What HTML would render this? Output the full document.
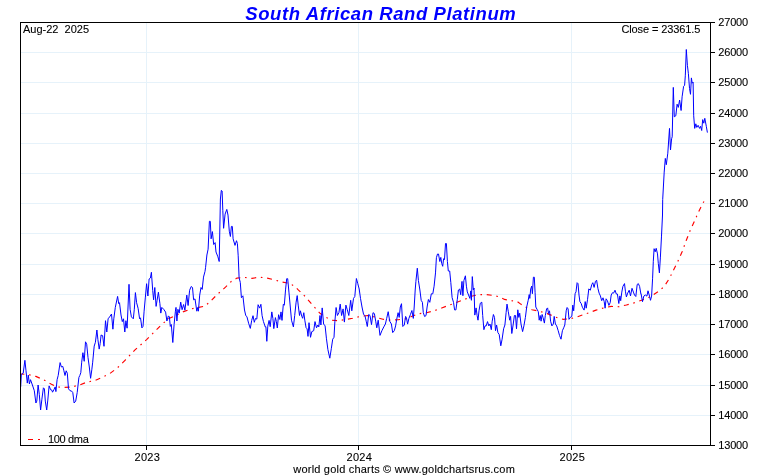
<!DOCTYPE html>
<html><head><meta charset="utf-8"><title>South African Rand Platinum</title>
<style>
html,body{margin:0;padding:0;background:#fff;}
body{width:760px;height:475px;overflow:hidden;}
svg{display:block;font-family:"Liberation Sans",sans-serif;font-size:11px;fill:#000;}
text{stroke:#000;stroke-width:.1px;}
.ttl{font-size:18.5px;font-weight:bold;font-style:italic;fill:#0000ff;stroke:none;}
</style></head><body>
<svg width="760" height="475" viewBox="0 0 760 475">
<rect width="760" height="475" fill="#fff"/>
<g fill="#e6f2fa" shape-rendering="crispEdges"><rect x="21" y="52" width="689" height="1"/><rect x="21" y="82" width="689" height="1"/><rect x="21" y="113" width="689" height="1"/><rect x="21" y="143" width="689" height="1"/><rect x="21" y="173" width="689" height="1"/><rect x="21" y="203" width="689" height="1"/><rect x="21" y="233" width="689" height="1"/><rect x="21" y="264" width="689" height="1"/><rect x="21" y="294" width="689" height="1"/><rect x="21" y="324" width="689" height="1"/><rect x="21" y="354" width="689" height="1"/><rect x="21" y="385" width="689" height="1"/><rect x="21" y="415" width="689" height="1"/><rect x="146" y="23" width="1" height="422"/><rect x="358" y="23" width="1" height="422"/><rect x="571" y="23" width="1" height="422"/></g>
<polyline fill="none" stroke="#ff0000" stroke-width="1.15" stroke-dasharray="5 4.7 1.6 4.7" stroke-dashoffset="1.5" points="20.9,374.0 28.3,374.5 35.9,376.4 43.4,379.7 51.0,384.0 56.7,386.9 64.3,387.4 71.9,386.9 79.5,385.0 87.0,382.1 94.6,380.6 102.2,377.4 109.8,373.6 117.4,367.9 125.0,360.3 135.0,349.9 146.6,339.6 160.8,325.4 168.4,318.8 176.0,315.4 183.6,311.6 191.2,308.9 198.7,307.4 205.0,306.1 210.3,301.4 217.9,293.9 225.5,287.2 231.2,281.5 236.9,278.1 244.5,277.4 252.0,278.3 259.6,277.2 267.2,278.1 274.8,280.0 282.4,282.1 290.0,283.4 295.6,287.2 298.5,290.1 305.2,296.5 312.7,305.1 320.3,313.6 327.0,317.8 331.7,320.2 337.4,320.6 345.0,319.7 352.6,318.3 360.1,316.4 367.7,315.5 375.3,317.0 382.9,319.3 390.5,320.2 398.1,319.7 405.6,318.9 411.4,316.5 419.0,313.7 426.5,312.7 434.1,310.8 441.7,308.0 449.3,305.1 456.9,302.3 464.7,299.4 471.4,296.2 479.0,294.6 486.5,294.6 494.1,295.6 499.8,296.9 504.5,299.4 511.2,300.7 516.9,301.3 520.7,304.1 526.4,307.5 532.0,309.8 539.6,311.3 547.2,313.6 552.9,315.9 558.6,318.3 563.3,319.3 570.0,318.7 575.6,317.4 580.9,315.5 588.4,313.0 596.0,310.1 603.6,307.9 611.2,306.4 618.8,306.7 626.4,305.0 633.9,302.9 641.5,300.3 644.2,299.2 650.5,296.7 657.9,291.8 664.2,286.6 669.5,278.2 673.7,269.7 677.9,261.3 682.1,251.8 686.3,240.3 690.5,229.7 695.2,219.6 697.9,213.2 702.1,204.7 706.3,197.4"/>
<polyline fill="none" stroke="#0000ff" stroke-width="1" stroke-linejoin="round" points="20.7,386.9 21.3,374.5 23.2,373.2 24.9,360.3 26.0,370.8 27.3,383.1 28.3,375.1 29.4,384.0 30.5,379.7 32.4,385.0 34.3,390.7 35.9,403.0 36.8,401.1 38.1,385.0 39.3,394.5 40.6,410.0 41.9,399.2 43.4,387.8 44.4,388.8 45.3,401.1 46.7,410.0 47.8,400.1 49.1,385.9 50.6,389.7 52.0,390.3 52.5,392.2 53.9,389.7 55.2,386.9 55.9,391.6 57.1,379.7 58.2,375.5 60.1,362.6 61.4,367.0 62.8,366.4 63.9,370.8 65.0,375.5 66.2,370.8 67.3,373.2 68.5,388.8 70.0,390.7 71.5,391.0 72.8,392.6 74.1,403.0 75.7,401.1 77.2,392.6 78.9,377.4 79.8,375.5 80.8,372.7 81.7,362.2 82.9,352.7 84.2,361.3 85.5,341.8 86.7,344.2 88.0,357.5 89.3,367.0 90.6,378.3 91.8,369.8 92.7,362.2 94.2,346.1 95.4,342.3 96.9,330.0 97.9,339.6 99.2,349.1 100.2,343.4 101.1,334.9 102.1,335.8 102.6,335.5 104.0,346.3 105.5,320.7 106.8,332.0 108.1,318.8 109.6,316.9 111.5,314.0 112.9,329.2 113.8,318.8 115.3,307.4 117.6,296.4 118.7,303.6 119.5,302.7 121.0,315.0 122.3,321.6 123.5,318.8 124.8,332.0 125.9,320.7 127.1,328.2 129.0,284.3 130.1,309.3 131.4,316.9 133.3,318.8 134.3,309.3 135.4,292.6 136.6,302.7 138.1,308.3 139.6,318.8 140.5,317.8 141.9,327.9 143.0,326.4 144.1,311.2 145.3,297.9 146.6,283.7 147.9,296.0 149.1,279.0 150.4,278.0 151.4,272.3 152.7,290.3 153.6,299.8 154.8,287.5 156.1,306.4 157.0,300.8 158.4,292.2 159.9,303.6 160.8,313.1 161.8,307.4 163.7,309.3 165.6,312.1 166.9,321.0 168.4,315.9 169.4,316.9 170.3,326.4 171.3,324.5 172.8,342.5 174.1,324.5 175.4,311.2 176.0,307.4 176.9,321.0 177.9,309.3 179.2,313.1 180.7,302.1 182.1,309.7 183.6,304.5 184.9,310.2 186.8,295.1 188.1,305.5 189.6,290.3 191.2,286.5 192.5,287.5 193.6,299.8 195.0,298.9 196.8,311.2 197.8,307.4 198.4,311.2 199.7,295.1 201.0,287.5 202.2,289.4 203.5,277.1 205.0,271.4 205.6,267.3 206.9,255.0 208.1,249.2 209.4,221.3 210.3,221.3 211.1,238.8 212.4,231.6 213.7,244.5 215.1,242.6 216.0,252.0 217.9,256.8 219.2,261.5 220.4,199.0 221.3,190.4 222.1,191.0 222.8,210.3 223.6,228.3 225.1,214.1 226.8,209.4 228.0,215.1 229.3,231.2 230.4,236.5 231.4,226.4 232.3,226.4 233.1,238.8 235.0,245.4 236.5,240.7 237.4,243.5 238.2,255.8 239.1,277.7 240.3,282.5 241.4,297.7 242.9,295.8 244.5,310.0 245.8,315.7 246.9,316.6 248.6,323.2 250.3,328.4 251.7,320.4 253.0,315.7 254.3,322.3 255.5,318.5 256.8,319.1 258.1,304.7 259.6,308.1 260.9,304.3 262.1,315.7 263.4,321.4 265.3,327.0 265.9,326.7 266.8,341.3 267.8,326.1 269.1,320.4 270.2,326.7 271.8,311.9 272.9,318.5 273.8,328.6 275.4,317.6 276.3,321.4 277.3,328.0 278.6,314.7 279.9,319.5 281.0,311.9 282.0,320.4 283.3,304.3 284.3,305.2 285.6,289.1 286.7,278.7 287.7,278.7 289.0,292.9 291.5,320.2 293.4,326.9 294.7,315.5 296.1,302.2 297.2,295.6 298.2,305.1 299.5,315.5 300.4,310.8 301.8,316.4 302.7,318.3 303.8,312.7 304.8,320.2 306.1,327.8 307.1,328.8 308.0,336.4 309.0,322.7 310.5,337.3 311.8,331.6 313.7,330.7 315.0,321.6 316.5,327.8 317.9,325.0 318.8,326.9 320.0,315.5 320.9,325.0 322.2,307.9 323.6,324.0 325.1,325.9 326.4,338.2 327.9,349.6 329.8,358.2 331.3,348.7 332.7,339.2 334.0,337.3 334.9,321.2 336.1,307.5 337.4,315.5 338.9,312.7 340.2,304.1 341.6,315.5 343.1,308.9 344.4,322.1 345.9,305.1 347.3,309.8 348.8,315.5 350.7,300.3 351.8,310.8 353.5,298.4 354.8,296.5 356.4,278.5 357.7,283.3 359.2,289.0 360.5,298.4 362.0,307.0 363.6,314.5 364.9,315.5 366.2,321.2 367.3,326.5 368.7,314.5 370.0,315.5 371.5,324.6 373.0,312.7 374.4,313.6 375.7,321.2 376.8,327.8 378.2,320.2 380.0,335.4 381.9,330.7 383.8,326.9 385.4,324.0 386.7,318.3 388.2,311.7 389.7,321.2 391.4,324.0 392.7,332.6 394.3,330.7 395.6,325.9 396.7,319.3 398.1,312.7 399.2,317.4 400.3,307.0 401.5,303.7 402.8,326.5 404.3,325.0 405.6,316.4 406.4,317.5 407.6,324.1 408.9,318.4 410.4,314.6 411.9,310.5 413.3,318.4 414.2,307.0 415.2,290.0 415.9,281.4 417.3,268.2 418.4,280.5 419.9,290.0 421.2,300.4 422.4,302.3 423.3,312.7 424.6,316.5 426.0,315.6 427.1,307.0 428.4,299.5 429.8,302.3 431.3,293.8 432.8,293.8 434.1,286.2 435.5,272.9 436.4,257.7 437.5,254.0 438.5,254.0 439.8,261.5 440.8,257.4 441.7,263.4 442.7,266.3 443.6,258.7 444.5,259.6 445.5,243.5 446.4,243.5 447.4,261.5 448.3,271.0 449.7,271.0 450.8,282.4 452.1,297.6 453.5,302.3 454.6,309.9 455.9,309.9 457.3,299.5 458.4,290.0 459.7,289.0 460.7,294.7 462.0,281.4 462.9,295.7 463.9,280.5 465.4,275.8 466.4,286.2 467.3,291.9 469.9,298.4 470.8,290.9 471.4,300.3 472.3,276.6 473.3,289.9 474.0,288.0 474.8,315.1 476.1,307.9 477.1,315.5 478.0,320.2 479.0,310.8 480.3,303.2 481.8,302.2 482.7,315.5 483.9,329.7 485.0,325.9 486.2,325.9 487.5,321.6 488.8,325.9 490.0,324.0 491.3,329.7 492.2,321.2 493.4,314.5 494.5,317.4 495.5,330.7 496.6,325.0 497.9,332.6 499.2,334.5 500.8,345.8 502.1,339.2 503.6,328.8 504.9,325.0 506.1,312.7 507.0,304.1 508.3,311.7 509.7,320.2 510.6,316.4 511.8,333.5 513.1,325.0 514.4,315.5 515.5,315.5 516.5,328.8 517.8,309.8 518.8,317.4 519.7,313.2 521.0,324.0 522.6,331.6 523.9,325.9 525.4,317.4 526.7,307.0 528.2,300.3 529.2,294.6 529.8,298.4 530.7,289.0 531.7,286.1 532.4,293.7 533.4,277.2 534.3,277.2 535.1,292.7 535.8,307.0 537.3,309.8 538.3,311.7 539.2,320.2 540.2,315.5 541.1,321.2 542.1,314.5 543.0,317.4 544.4,323.1 545.3,315.5 546.6,308.9 547.6,307.9 548.5,313.6 549.5,310.8 550.6,321.2 551.9,325.9 553.3,324.0 554.2,316.4 555.4,324.0 556.7,325.9 558.2,330.7 559.5,335.4 561.0,339.2 562.4,330.7 563.7,327.8 564.8,325.0 566.2,310.8 567.1,307.5 568.1,308.9 569.0,319.3 570.3,317.4 571.8,316.4 572.8,305.1 573.7,310.8 575.1,293.7 576.0,291.8 577.1,282.7 578.0,283.6 579.0,295.0 579.9,301.6 581.2,303.5 582.4,307.3 584.1,310.1 585.2,301.6 586.2,308.2 587.5,299.7 588.8,288.9 590.3,290.2 591.8,284.5 592.8,282.7 594.1,287.4 595.5,281.3 596.6,280.2 597.9,288.3 599.1,293.1 600.4,295.9 601.7,300.7 603.0,297.8 604.2,301.6 605.1,308.2 606.1,298.8 607.4,300.7 608.9,305.4 610.2,302.6 611.2,295.0 612.5,292.7 613.6,293.1 615.0,290.2 616.3,294.0 617.4,294.0 618.8,303.5 619.9,295.9 620.7,300.7 621.8,292.1 622.9,286.4 624.5,283.6 625.4,291.2 626.4,296.9 627.7,293.1 629.2,290.2 630.5,295.9 632.0,288.3 633.4,292.1 634.5,295.0 635.8,296.5 637.2,284.5 638.3,283.6 639.6,286.4 640.9,294.0 641.1,293.9 642.5,301.7 643.8,296.1 645.3,295.0 646.9,296.1 648.0,290.8 649.5,296.1 650.5,300.3 651.6,296.1 652.6,278.2 653.3,261.3 654.1,248.7 655.2,251.8 656.2,248.3 657.5,253.9 658.3,263.4 659.4,272.9 660.4,257.1 661.5,236.1 662.5,215.0 662.7,199.5 664.2,172.1 665.3,158.4 666.3,164.7 667.8,153.2 669.5,128.4 670.5,150.0 671.6,138.8 672.2,136.8 673.3,87.4 674.3,116.8 675.8,115.8 677.1,104.2 678.3,107.4 679.6,100.0 681.1,110.5 682.1,96.8 683.6,86.3 684.6,85.3 685.3,75.8 686.3,49.5 687.4,65.3 688.4,73.7 689.5,88.4 690.5,94.3 691.4,77.9 692.2,83.2 693.1,82.1 693.7,115.8 694.7,128.4 695.8,123.8 696.8,127.4 698.1,125.3 699.6,128.4 700.6,126.3 701.7,130.5 702.7,119.6 703.8,123.2 704.8,118.3 706.3,126.3 707.4,132.6"/>
<g fill="#000" shape-rendering="crispEdges">
<rect x="20" y="22" width="691" height="1"/><rect x="20" y="445" width="691" height="1"/>
<rect x="20" y="22" width="1" height="424"/><rect x="710" y="22" width="1" height="424"/>
<rect x="711" y="22" width="4" height="1"/><rect x="711" y="52" width="4" height="1"/><rect x="711" y="82" width="4" height="1"/><rect x="711" y="113" width="4" height="1"/><rect x="711" y="143" width="4" height="1"/><rect x="711" y="173" width="4" height="1"/><rect x="711" y="203" width="4" height="1"/><rect x="711" y="233" width="4" height="1"/><rect x="711" y="264" width="4" height="1"/><rect x="711" y="294" width="4" height="1"/><rect x="711" y="324" width="4" height="1"/><rect x="711" y="354" width="4" height="1"/><rect x="711" y="385" width="4" height="1"/><rect x="711" y="415" width="4" height="1"/><rect x="711" y="445" width="4" height="1"/><rect x="146" y="446" width="1" height="4"/><rect x="358" y="446" width="1" height="4"/><rect x="571" y="446" width="1" height="4"/></g>
<g><text x="718.2" y="26.1" textLength="30" lengthAdjust="spacing">27000</text><text x="718.2" y="56.1" textLength="30" lengthAdjust="spacing">26000</text><text x="718.2" y="86.1" textLength="30" lengthAdjust="spacing">25000</text><text x="718.2" y="117.1" textLength="30" lengthAdjust="spacing">24000</text><text x="718.2" y="147.1" textLength="30" lengthAdjust="spacing">23000</text><text x="718.2" y="177.1" textLength="30" lengthAdjust="spacing">22000</text><text x="718.2" y="207.1" textLength="30" lengthAdjust="spacing">21000</text><text x="718.2" y="237.1" textLength="30" lengthAdjust="spacing">20000</text><text x="718.2" y="268.1" textLength="30" lengthAdjust="spacing">19000</text><text x="718.2" y="298.1" textLength="30" lengthAdjust="spacing">18000</text><text x="718.2" y="328.1" textLength="30" lengthAdjust="spacing">17000</text><text x="718.2" y="358.1" textLength="30" lengthAdjust="spacing">16000</text><text x="718.2" y="389.1" textLength="30" lengthAdjust="spacing">15000</text><text x="718.2" y="419.1" textLength="30" lengthAdjust="spacing">14000</text><text x="718.2" y="449.1" textLength="30" lengthAdjust="spacing">13000</text><text x="147.2" y="461" text-anchor="middle" textLength="25.2" lengthAdjust="spacing">2023</text><text x="359.2" y="461" text-anchor="middle" textLength="25.2" lengthAdjust="spacing">2024</text><text x="572.2" y="461" text-anchor="middle" textLength="25.2" lengthAdjust="spacing">2025</text></g>
<text class="ttl" x="245.3" y="19.6" textLength="270.5" lengthAdjust="spacing">South African Rand Platinum</text>
<text x="23" y="33">Aug-22&#160; 2025</text>
<text x="621.4" y="33" textLength="79" lengthAdjust="spacing">Close = 23361.5</text>
<line x1="28" y1="439.5" x2="42" y2="439.5" stroke="#ff0000" stroke-width="1.2" stroke-dasharray="5 5 2 5"/>
<text x="48" y="443" textLength="40.8" lengthAdjust="spacing">100 dma</text>
<text x="293.3" y="473" textLength="221.5" lengthAdjust="spacing">world gold charts © www.goldchartsrus.com</text>
</svg>
</body></html>
